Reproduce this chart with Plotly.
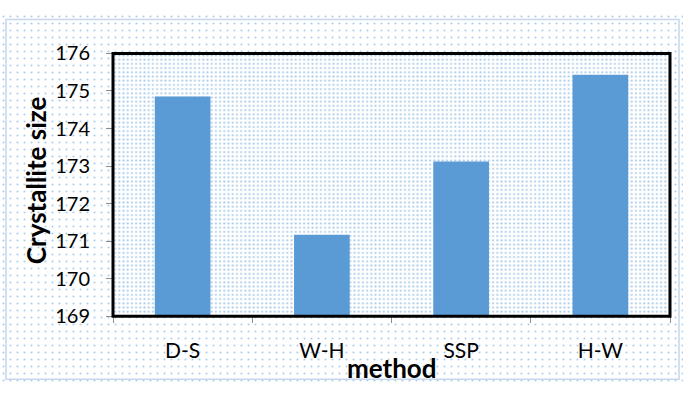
import plotly.graph_objects as go

categories = ["D-S", "W-H", "SSP", "H-W"]
values = [174.85, 171.17, 173.12, 175.43]
y_ticks = [169, 170, 171, 172, 173, 174, 175, 176]

BLUE = "#5B9BD5"
FONT = "Lato"

fig = go.Figure()

# full-figure dotted background (own subplot)
fig.add_trace(go.Bar(x=[0], y=[1], width=[1], xaxis="x", yaxis="y",
                     marker=dict(color="white", line=dict(width=0),
                                 pattern=dict(shape=".", size=7, solidity=0.07,
                                              fgcolor=BLUE, fillmode="overlay")),
                     hoverinfo="skip", showlegend=False))
# plot-area denser dotted background
fig.add_trace(go.Bar(x=[0], y=[1], width=[1], xaxis="x2", yaxis="y2",
                     marker=dict(color="white", line=dict(width=0),
                                 pattern=dict(shape=".", size=4.2, solidity=0.2,
                                              fgcolor=BLUE, fillmode="overlay")),
                     hoverinfo="skip", showlegend=False))
# data
fig.add_trace(go.Bar(x=categories, y=values, xaxis="x3", yaxis="y3",
                     marker=dict(color=BLUE, line=dict(width=0)),
                     showlegend=False))

x0, x1 = 113/683, 670/683
y0, y1 = 1-323/394, 1-43/394

hidden = dict(visible=False, fixedrange=True)
fig.update_layout(
    width=683, height=394,
    margin=dict(l=0, r=0, t=0, b=0),
    paper_bgcolor="white", plot_bgcolor="rgba(0,0,0,0)",
    bargap=0.6,
    barmode="overlay",
    xaxis=dict(domain=[0, 1], range=[-0.5, 0.5], **hidden),
    yaxis=dict(domain=[0, 1], range=[0, 1], **hidden),
    xaxis2=dict(domain=[x0, x1], range=[-0.5, 0.5], anchor="y2", **hidden),
    yaxis2=dict(domain=[y0, y1], range=[0, 1], anchor="x2", **hidden),
    xaxis3=dict(domain=[x0, x1], anchor="y3", type="category",
                tickson="boundaries", ticks="outside", ticklen=6, tickcolor="#8c8c8c",
                showline=False, showgrid=False, ticklabelstandoff=20,
                tickfont=dict(family=FONT, size=21, color="black")),
    yaxis3=dict(domain=[y0, y1], anchor="x3", range=[169, 176],
                tickvals=y_ticks, ticks="outside", ticklen=6, tickcolor="#8c8c8c",
                showgrid=False, showline=False, zeroline=False, ticklabelstandoff=12,
                tickfont=dict(family=FONT, size=20, color="black")),
    shapes=[
        dict(type="rect", xref="paper", yref="paper", x0=x0, x1=x1, y0=y0, y1=y1,
             line=dict(color="black", width=3), layer="above"),
        dict(type="rect", xref="paper", yref="paper", x0=6/683, x1=679/683,
             y0=1-390/394, y1=1-7/394,
             line=dict(color="#c6d6ec", width=1.5), layer="above"),
    ],
    annotations=[
        dict(text="<b>Crystallite size</b>", xref="paper", yref="paper",
             x=36/683, y=1-178/394, textangle=-90, showarrow=False,
             xanchor="center", yanchor="middle",
             font=dict(family=FONT, size=26, color="black")),
        dict(text="<b>method</b>", xref="paper", yref="paper",
             x=392/683, y=1-378/394, showarrow=False,
             xanchor="center", yanchor="middle",
             font=dict(family=FONT, size=26, color="black")),
    ],
)

fig.write_html("out.html")
